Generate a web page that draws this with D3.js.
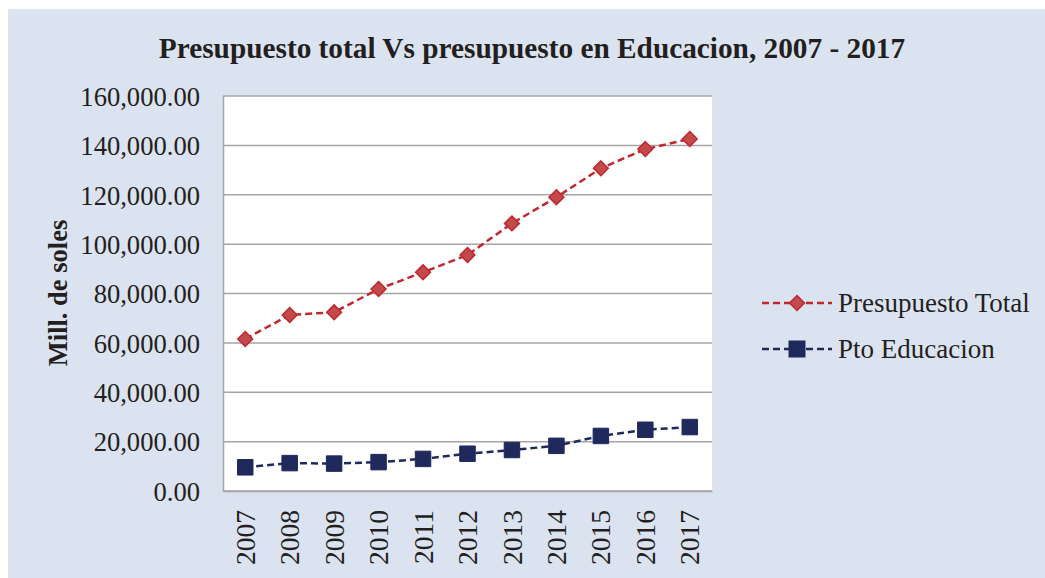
<!DOCTYPE html>
<html lang="es">
<head>
<meta charset="utf-8">
<title>Presupuesto total Vs presupuesto en Educacion</title>
<style>
  html, body { margin: 0; padding: 0; background: #ffffff; }
  svg text { font-family: "Liberation Serif", "Times New Roman", serif; fill: #231f20; }
</style>
</head>
<body>
<script src="https://cdn.jsdelivr.net/npm/d3@7"></script>
<script>
// data
var years = ["2007", "2008", "2009", "2010", "2011", "2012", "2013", "2014", "2015", "2016", "2017"];
var totalValues = [61600, 71300, 72400, 81800, 88600, 95600, 108400, 119000, 130700, 138500, 142600];
var educValues = [9600, 11300, 11100, 11700, 13000, 15100, 16600, 18300, 22300, 24800, 25900];
var yTicks = [0, 20000, 40000, 60000, 80000, 100000, 120000, 140000, 160000];
var seriesNames = ["Presupuesto Total", "Pto Educacion"];

var width = 1045, height = 578;
var plot = { left: 223, right: 712, top: 96, bottom: 491 };

var svg = d3.select("body").append("svg")
  .attr("width", width).attr("height", height);

// background
svg.append("rect")
  .attr("x", 8).attr("y", 9)
  .attr("width", width - 8).attr("height", height - 9)
  .attr("fill", "#dce3f0");

svg.append("rect")
  .attr("x", plot.left).attr("y", plot.top)
  .attr("width", plot.right - plot.left).attr("height", plot.bottom - plot.top)
  .attr("fill", "#ffffff");

var x = d3.scaleBand().domain(years).range([plot.left, plot.right]);
var y = d3.scaleLinear().domain([0, 160000]).range([plot.bottom, plot.top]);

var fmt = d3.format(",.2f");

// gridlines
svg.append("g").selectAll("line")
  .data(yTicks)
  .join("line")
  .attr("x1", plot.left).attr("x2", plot.right)
  .attr("y1", function (d) { return y(d); })
  .attr("y2", function (d) { return y(d); })
  .attr("stroke", "#a5a5a8").attr("stroke-width", 1.5);

// y axis
var yAxis = svg.append("g")
  .attr("transform", "translate(" + plot.left + ",0)")
  .call(d3.axisLeft(y).tickValues(yTicks).tickFormat(fmt).tickSize(0).tickPadding(23));
yAxis.select(".domain").attr("stroke", "#a5a5a8").attr("stroke-width", 1.5);
yAxis.selectAll("text")
  .style("font-size", "26.6px")
  .style("font-family", "Liberation Serif")
  .attr("fill", "#231f20")
  .attr("dy", "0.35em");

// x axis
var xAxis = svg.append("g")
  .attr("transform", "translate(0," + plot.bottom + ")")
  .call(d3.axisBottom(x).tickSize(0).tickPadding(0));
xAxis.select(".domain").attr("stroke", "#a5a5a8").attr("stroke-width", 1.5);
xAxis.selectAll("text")
  .style("font-size", "27.5px")
  .style("font-family", "Liberation Serif")
  .attr("fill", "#231f20")
  .attr("text-anchor", "end")
  .attr("transform", "rotate(-90)")
  .attr("x", -19)
  .attr("y", 0)
  .attr("dy", "0.35em");

// axis title
svg.append("text")
  .attr("transform", "translate(67," + 293 + ") rotate(-90)")
  .attr("text-anchor", "middle")
  .style("font-size", "26.5px")
  .style("font-weight", "bold")
  .text("Mill. de soles");

// title
svg.append("text")
  .attr("x", 532).attr("y", 58)
  .attr("text-anchor", "middle")
  .style("font-size", "29.3px")
  .style("font-weight", "bold")
  .text("Presupuesto total Vs presupuesto en Educacion, 2007 - 2017");

var cx = function (i) { return x(years[i]) + x.bandwidth() / 2; };

var line = d3.line()
  .x(function (d, i) { return cx(i); })
  .y(function (d) { return y(d); });

var red = "#c0282e", redFill = "#c24a4c", navy = "#1f295c";

svg.append("path")
  .datum(totalValues)
  .attr("d", line)
  .attr("fill", "none")
  .attr("stroke", red)
  .attr("stroke-width", 2.5)
  .attr("stroke-dasharray", "7,4");

svg.append("path")
  .datum(educValues)
  .attr("d", line)
  .attr("fill", "none")
  .attr("stroke", navy)
  .attr("stroke-width", 2.5)
  .attr("stroke-dasharray", "7,4");

var diamond = d3.symbol().type(d3.symbolDiamond2).size(140);
var square = d3.symbol().type(d3.symbolSquare).size(240);

svg.append("g").selectAll("path")
  .data(totalValues)
  .join("path")
  .attr("d", diamond)
  .attr("transform", function (d, i) { return "translate(" + cx(i) + "," + y(d) + ")"; })
  .attr("fill", redFill)
  .attr("stroke", red)
  .attr("stroke-width", 1.5);

svg.append("g").selectAll("path")
  .data(educValues)
  .join("path")
  .attr("d", square)
  .attr("transform", function (d, i) { return "translate(" + cx(i) + "," + y(d) + ")"; })
  .attr("fill", navy)
  .attr("stroke", navy)
  .attr("stroke-width", 1)
  .attr("stroke-linejoin", "round");

// legend
var legend = svg.append("g");
var legendY = [303, 349];
var legendColors = [red, navy];
seriesNames.forEach(function (name, i) {
  legend.append("line")
    .attr("x1", 762).attr("x2", 832)
    .attr("y1", legendY[i]).attr("y2", legendY[i])
    .attr("stroke", legendColors[i])
    .attr("stroke-width", 2.5)
    .attr("stroke-dasharray", "7,4");
  legend.append("path")
    .attr("d", i === 0 ? diamond : square)
    .attr("transform", "translate(797," + legendY[i] + ")")
    .attr("fill", i === 0 ? redFill : navy)
    .attr("stroke", legendColors[i])
    .attr("stroke-width", 1.5);
  legend.append("text")
    .attr("x", 838).attr("y", legendY[i] + 9)
    .style("font-size", "27px")
    .text(name);
});
</script>
</body>
</html>
